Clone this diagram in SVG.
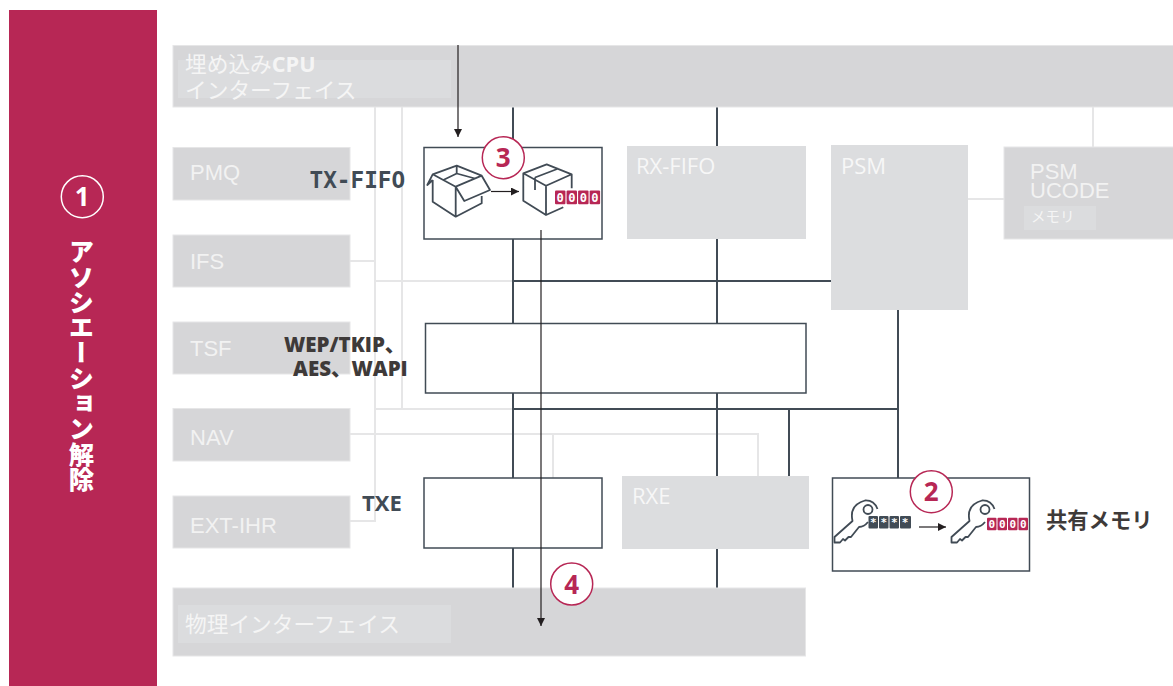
<svg xmlns="http://www.w3.org/2000/svg" xmlns:xlink="http://www.w3.org/1999/xlink" width="1173" height="686" viewBox="0 0 1173 686">
<style>
text{font-family:"Open Sans","Noto Sans CJK JP",sans-serif}
.jp{font-family:"Noto Sans CJK JP","Open Sans",sans-serif}
.g1{fill:#d6d6d8;stroke:#e6e6e7;stroke-width:1}
.g2{fill:#dcdddf}
.in{fill:#dbdcde}
.lab{font-family:"Liberation Sans",sans-serif;font-size:22px;fill:#f2f2f2}
.labo{font-size:22px;fill:#f7f7f7}
.labj{font-size:21.700px;fill:#f5f5f5}
.box{fill:#fff;stroke:#414b55;stroke-width:1.5}
.lt{fill:none;stroke:#e6e6e7;stroke-width:2}
.dk{fill:none;stroke:#414b55;stroke-width:2}
.thin{fill:none;stroke:#231f20;stroke-width:1.2;marker-end:url(#a)}
.ic{fill:none;stroke:#414b55;stroke-width:1.800;stroke-linejoin:round}
.num{fill:#fff;stroke:#b72755;stroke-width:1.5}
.nt{font-size:26px;font-weight:700;fill:#b72755;text-anchor:middle}
.dark{font-weight:700;fill:#414b55}
.br{font-weight:800;fill:#3e3a39;font-size:20.500px}
.p{fill:#b72755}
.d{fill:#414b55}
.c{font-family:"DejaVu Sans Mono",monospace;font-size:11px;font-weight:700;fill:#fff;text-anchor:middle}
</style>
<defs>
<marker id="a" markerUnits="userSpaceOnUse" markerWidth="9" markerHeight="9" refX="8" refY="4" orient="auto"><path d="M0,0L8,4L0,8Z" fill="#231f20"/></marker>
<g id="key"><path class="ic" d="M868,522Q864,527 859,527L851,537H848.500L845,540.500L843,539L840,542.500H834.500V537L852.500,521Q849,505 865,500.500Q874,500 877.500,509"/><circle class="ic" cx="868" cy="509.500" r="4.500"/></g>
<g id="cnt"><rect class="p" x="0" y="0" width="9.500" height="12.500" rx="1"/><rect class="p" x="10.500" y="0" width="9.500" height="12.500" rx="1"/><rect class="p" x="21" y="0" width="9.500" height="12.500" rx="1"/><rect class="p" x="31.500" y="0" width="9.500" height="12.500" rx="1"/><text class="c" x="4.750" y="10.200">0</text><text class="c" x="15.250" y="10.200">0</text><text class="c" x="25.750" y="10.200">0</text><text class="c" x="36.250" y="10.200">0</text></g>
</defs>
<rect width="1173" height="686" fill="#fff"/>
<g id="connectors">
<path class="lt" d="M375,107V521H350M402,107V409M350,261H375M375,281H513M375,409H513M350,434H758V476M553,434V478M968,199H1004M1093,107V147"/>
<path class="dk" d="M513,107V147M513,239V323M513,393V478M513,548V588M717,107V146M717,239V323M717,393V476M717,549V588M513,281H831M513,409H898M898,310V478M789,409V476"/>
</g>
<g id="sidebar"><rect class="p" x="9" y="10" width="148" height="676"/>
<text x="81.500" y="239" class="jp" style="writing-mode:vertical-rl;font-size:25.300px;font-weight:900;fill:#fff;text-anchor:start">アソシエーション解除</text></g>
<g id="cpu"><rect class="g1" x="173" y="45.500" width="1001" height="61.500"/><rect class="in" x="178" y="60" width="273" height="38"/><text x="185" y="72" class="labj">埋め込み<tspan font-weight="700">CPU</tspan></text><text x="185" y="98" class="labj">インターフェイス</text></g>
<g id="pmq"><rect class="g1" x="173" y="147.500" width="177" height="52.500"/><text class="lab" x="190" y="180">PMQ</text></g>
<g id="ifs"><rect class="g1" x="173" y="235" width="177" height="52"/><text class="lab" x="190" y="269">IFS</text></g>
<g id="tsf"><rect class="g1" x="173" y="322" width="177" height="52"/><text class="lab" x="190" y="356">TSF</text></g>
<g id="nav"><rect class="g1" x="173" y="408.500" width="177" height="52.500"/><text class="lab" x="190" y="445">NAV</text></g>
<g id="ext-ihr"><rect class="g1" x="173" y="496" width="177" height="52"/><text class="lab" x="190" y="533">EXT-IHR</text></g>
<g id="phy"><rect class="g1" x="173" y="588" width="632.500" height="68"/><rect class="in" x="178" y="605" width="273" height="38"/><text x="185" y="632" class="labj">物理インターフェイス</text></g>
<g id="tx-fifo"><rect class="box" x="424" y="147.500" width="178" height="91.500"/>
<path class="ic" d="M432.700,174.300L456.700,165.700L481.700,175.700L455.700,186.700ZM456.700,165.700V173.500L443.300,180M456.700,173.500L475,178.500M432.700,174.300L427.300,185L432.700,180M432.700,180V201.700L455.700,216.700L481.700,203.300V196M455.700,186.700V216.700M455.700,186.700L464.300,201L490,190L481.700,175.700"/>
<path class="ic" d="M523.300,173.300L546.700,164.300L571.700,174.300L546,185.700ZM535,177.500V190M535,177.500L558.500,168.500M523.300,173.300V200.700L546,215L563.300,207.300M546,185.700V215M571.700,174.300V188.300"/>
<use xlink:href="#cnt" href="#cnt" transform="translate(555 190.500) scale(1.100)"/>
<text x="309.500" y="188" style="font-family:'DejaVu Sans Mono',monospace;font-size:22.700px;font-weight:700;fill:#414b55">TX-FIFO</text></g>
<g id="rx-fifo"><rect class="g2" x="627" y="146" width="179" height="93"/><text class="labo" x="636" y="174">RX-FIFO</text></g>
<g id="psm"><rect class="g2" x="831" y="145" width="137" height="165"/><text class="labo" x="841" y="174">PSM</text></g>
<g id="psm-ucode"><rect class="g1" x="1004" y="147" width="170" height="92"/><text class="lab" x="1030" y="179">PSM</text><text class="lab" x="1030" y="198">UCODE</text><rect class="in" x="1024" y="206" width="72" height="24"/><text x="1031" y="222" style="font-size:14.500px;fill:#f5f5f5">メモリ</text></g>
<g id="crypto"><rect class="box" x="425.500" y="323.500" width="380.500" height="69.500"/><text class="br" x="284" y="351.500">WEP/TKIP、</text><text class="br" x="293" y="375.500">AES、WAPI</text></g>
<g id="txe"><rect class="box" x="424" y="478" width="178" height="70"/><text class="dark" x="362" y="511" style="font-size:22px">TXE</text></g>
<g id="rxe"><rect class="g2" x="622" y="476" width="187" height="73"/><text class="labo" x="632" y="504">RXE</text></g>
<g id="shared"><rect class="box" x="832.500" y="478" width="197" height="93"/>
<use xlink:href="#key" href="#key"/>
<rect class="d" x="868.500" y="516" width="9.500" height="12.500" rx="1"/><rect class="d" x="879" y="516" width="9.500" height="12.500" rx="1"/><rect class="d" x="889.500" y="516" width="9.500" height="12.500" rx="1"/><rect class="d" x="900" y="516" width="11" height="12.500" rx="1"/>
<text class="c" x="873.250" y="526">*</text><text class="c" x="883.750" y="526">*</text><text class="c" x="894.250" y="526">*</text><text class="c" x="905" y="526">*</text>
<use xlink:href="#key" href="#key" x="117" y="0"/>
<use xlink:href="#cnt" href="#cnt" x="987" y="517.700"/>
<text x="1046" y="528" class="jp" style="font-size:21.300px;font-weight:700;fill:#3e3a39">共有メモリ</text></g>
<g id="arrows">
<path class="thin" d="M458,45V137"/>
<path class="thin" d="M491,191.500H519"/>
<path class="thin" d="M919,527H946"/>
<path class="thin" d="M541,230V626"/>
</g>
<g id="n1"><circle cx="82.300" cy="196.700" r="21" fill="none" stroke="#fff" stroke-width="1.500"/><text class="nt" style="fill:#fff" x="82.300" y="206">1</text></g>
<g id="n2"><circle class="num" cx="931.300" cy="491.700" r="21"/><text class="nt" x="931.300" y="501">2</text></g>
<g id="n3"><circle class="num" cx="503.300" cy="157.700" r="21"/><text class="nt" x="503.300" y="167">3</text></g>
<g id="n4"><circle class="num" cx="571.700" cy="584" r="21"/><text class="nt" x="571.700" y="593.500">4</text></g>
</svg>
